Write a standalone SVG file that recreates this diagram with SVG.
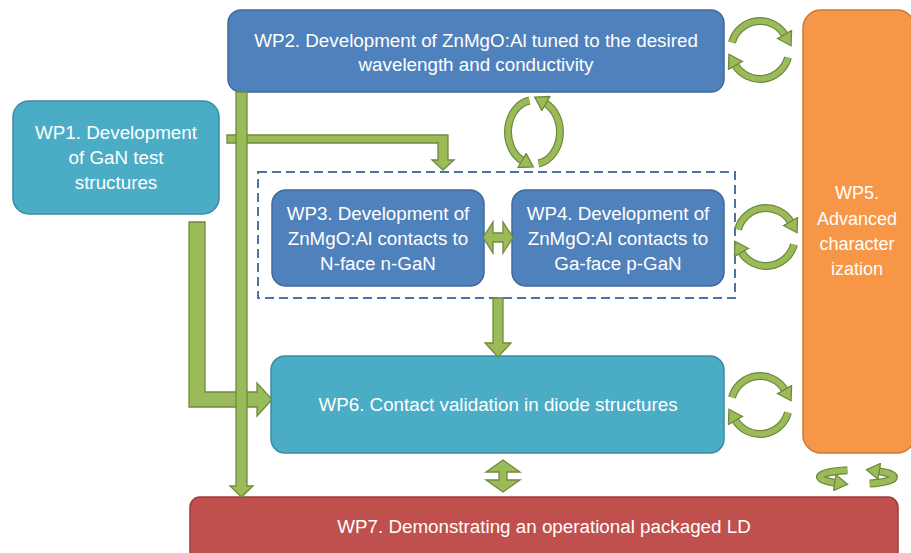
<svg xmlns="http://www.w3.org/2000/svg" xmlns:xlink="http://www.w3.org/1999/xlink" width="911" height="553" viewBox="0 0 911 553">
<style>
  text { font-family: "Liberation Sans", Arial, sans-serif; font-size: 18.8px; fill: #ffffff; text-anchor: middle; }
  #WP5 text { font-size: 18px; }
  .blue { fill: #4F81BD; stroke: #41699A; stroke-width: 1.5; }
  .teal { fill: #4BACC6; stroke: #3A8CA3; stroke-width: 1.5; }
  .orange { fill: #F79646; stroke: #C87A3A; stroke-width: 1.5; }
  .red { fill: #C0504D; stroke: #9A3C3A; stroke-width: 1.5; }
  .dashed { fill: none; stroke: #4A74A8; stroke-width: 2; stroke-dasharray: 9 5; }
  .barrow { fill: #9BBB59; stroke: #71893F; stroke-width: 1.3; stroke-linejoin: miter; }
  .arc-out { fill: none; stroke: #71893F; stroke-width: 8; }
  .arc-in { fill: none; stroke: #9BBB59; stroke-width: 5.5; marker-end: url(#ah); }
</style>
<defs>
  <marker id="ah" markerUnits="userSpaceOnUse" markerWidth="16" markerHeight="18" refX="1" refY="8" orient="auto" viewBox="0 0 13 16">
    <path d="M0,0.8 L11.5,8 L0,15.2 Z" fill="#9BBB59" stroke="#71893F" stroke-width="1.2"/>
  </marker>
  <path id="cw-top" d="M-28,-7.5 A29,29 0 0 1 25.1,-14.5"/>
  <path id="cw-bot" d="M28,7.5 A29,29 0 0 1 -25.1,14.5"/>
  <g id="cycle">
    <use xlink:href="#cw-top" class="arc-out"/>
    <use xlink:href="#cw-top" class="arc-in"/>
    <use xlink:href="#cw-bot" class="arc-out"/>
    <use xlink:href="#cw-bot" class="arc-in"/>
  </g>
  <path id="v-left" d="M-4.5,-31.5 A26,32 0 0 0 -11,29"/>
  <path id="v-right" d="M4.5,31.5 A26,32 0 0 0 11,-29"/>
  <path id="p-left" d="M-9.6,-6.8 A37,7 0 0 0 -21.2,5.7"/>
  <path id="p-right" d="M12.7,6.6 A37,7 0 0 0 21.2,-5.7"/>
</defs>

<g id="WP5">
  <rect class="orange" x="803" y="10" width="112" height="443" rx="18"/>
  <text x="857" y="199">WP5.</text>
  <text x="857" y="225">Advanced</text>
  <text x="857" y="250">character</text>
  <text x="857" y="275">ization</text>
</g>
<g id="WP2">
  <rect class="blue" x="228" y="10" width="496" height="82" rx="13"/>
  <text x="476" y="47">WP2. Development of ZnMgO:Al tuned to the desired</text>
  <text x="476" y="71">wavelength and conductivity</text>
</g>
<g id="WP1">
  <rect class="teal" x="13" y="101" width="206" height="113" rx="16"/>
  <text x="116" y="139">WP1. Development</text>
  <text x="116" y="164">of GaN test</text>
  <text x="116" y="189">structures</text>
</g>
<g id="WP34-group">
  <rect class="dashed" x="258" y="172" width="477" height="126"/>
</g>
<g id="WP3">
  <rect class="blue" x="272" y="190" width="212" height="96" rx="14"/>
  <text x="378" y="220">WP3. Development of</text>
  <text x="378" y="245">ZnMgO:Al contacts to</text>
  <text x="378" y="270">N-face n-GaN</text>
</g>
<g id="WP4">
  <rect class="blue" x="512" y="190" width="212" height="96" rx="14"/>
  <text x="618" y="220">WP4. Development of</text>
  <text x="618" y="245">ZnMgO:Al contacts to</text>
  <text x="618" y="270">Ga-face p-GaN</text>
</g>
<g id="WP6">
  <rect class="teal" x="271" y="356" width="453" height="97" rx="14"/>
  <text x="498" y="411">WP6. Contact validation in diode structures</text>
</g>
<g id="WP7">
  <rect class="red" x="190" y="497" width="708" height="70" rx="10"/>
  <text x="544" y="533">WP7. Demonstrating an operational packaged LD</text>
</g>

<g id="connectors">
  <!-- WP1 -> WP3/WP4 group -->
  <path class="barrow" d="M227,135 L448,135 L448,160 L454,160 L443,170 L432,160 L438,160 L438,143 L227,143 Z"/>
  <!-- WP1 -> WP6 -->
  <path class="barrow" d="M189,222 L205,222 L205,392 L257,392 L257,383 L272,399.5 L257,416 L257,407 L189,407 Z"/>
  <!-- WP2 -> WP7 -->
  <path class="barrow" d="M236,92 L247,92 L247,486 L253,486 L241.5,497 L230,486 L236,486 Z"/>
  <!-- group -> WP6 -->
  <path class="barrow" d="M493,298 L503,298 L503,343 L511,343 L498,357 L485,343 L493,343 Z"/>
  <!-- WP3 <-> WP4 -->
  <path class="barrow" d="M483,237.5 L493,222 L493,233 L503,233 L503,222 L513,237.5 L503,253 L503,242 L493,242 L493,253 Z"/>
  <!-- WP6 <-> WP7 -->
  <path class="barrow" d="M503,460 L520,472 L507,472 L507,480 L520,480 L503,492 L486,480 L499,480 L499,472 L486,472 Z"/>
  <!-- cycles with WP5 -->
  <use xlink:href="#cycle" x="760" y="50"/>
  <use xlink:href="#cycle" x="766" y="237"/>
  <use xlink:href="#cycle" x="760" y="405"/>
  <!-- WP2 <-> group cycle -->
  <g transform="translate(534,132)">
    <use xlink:href="#v-left" class="arc-out"/>
    <use xlink:href="#v-left" class="arc-in"/>
    <use xlink:href="#v-right" class="arc-out"/>
    <use xlink:href="#v-right" class="arc-in"/>
  </g>
  <!-- WP5 <-> WP7 cycle -->
  <g transform="translate(857,477)">
    <use xlink:href="#p-left" class="arc-out"/>
    <use xlink:href="#p-left" class="arc-in"/>
    <use xlink:href="#p-right" class="arc-out"/>
    <use xlink:href="#p-right" class="arc-in"/>
  </g>
</g>
</svg>
